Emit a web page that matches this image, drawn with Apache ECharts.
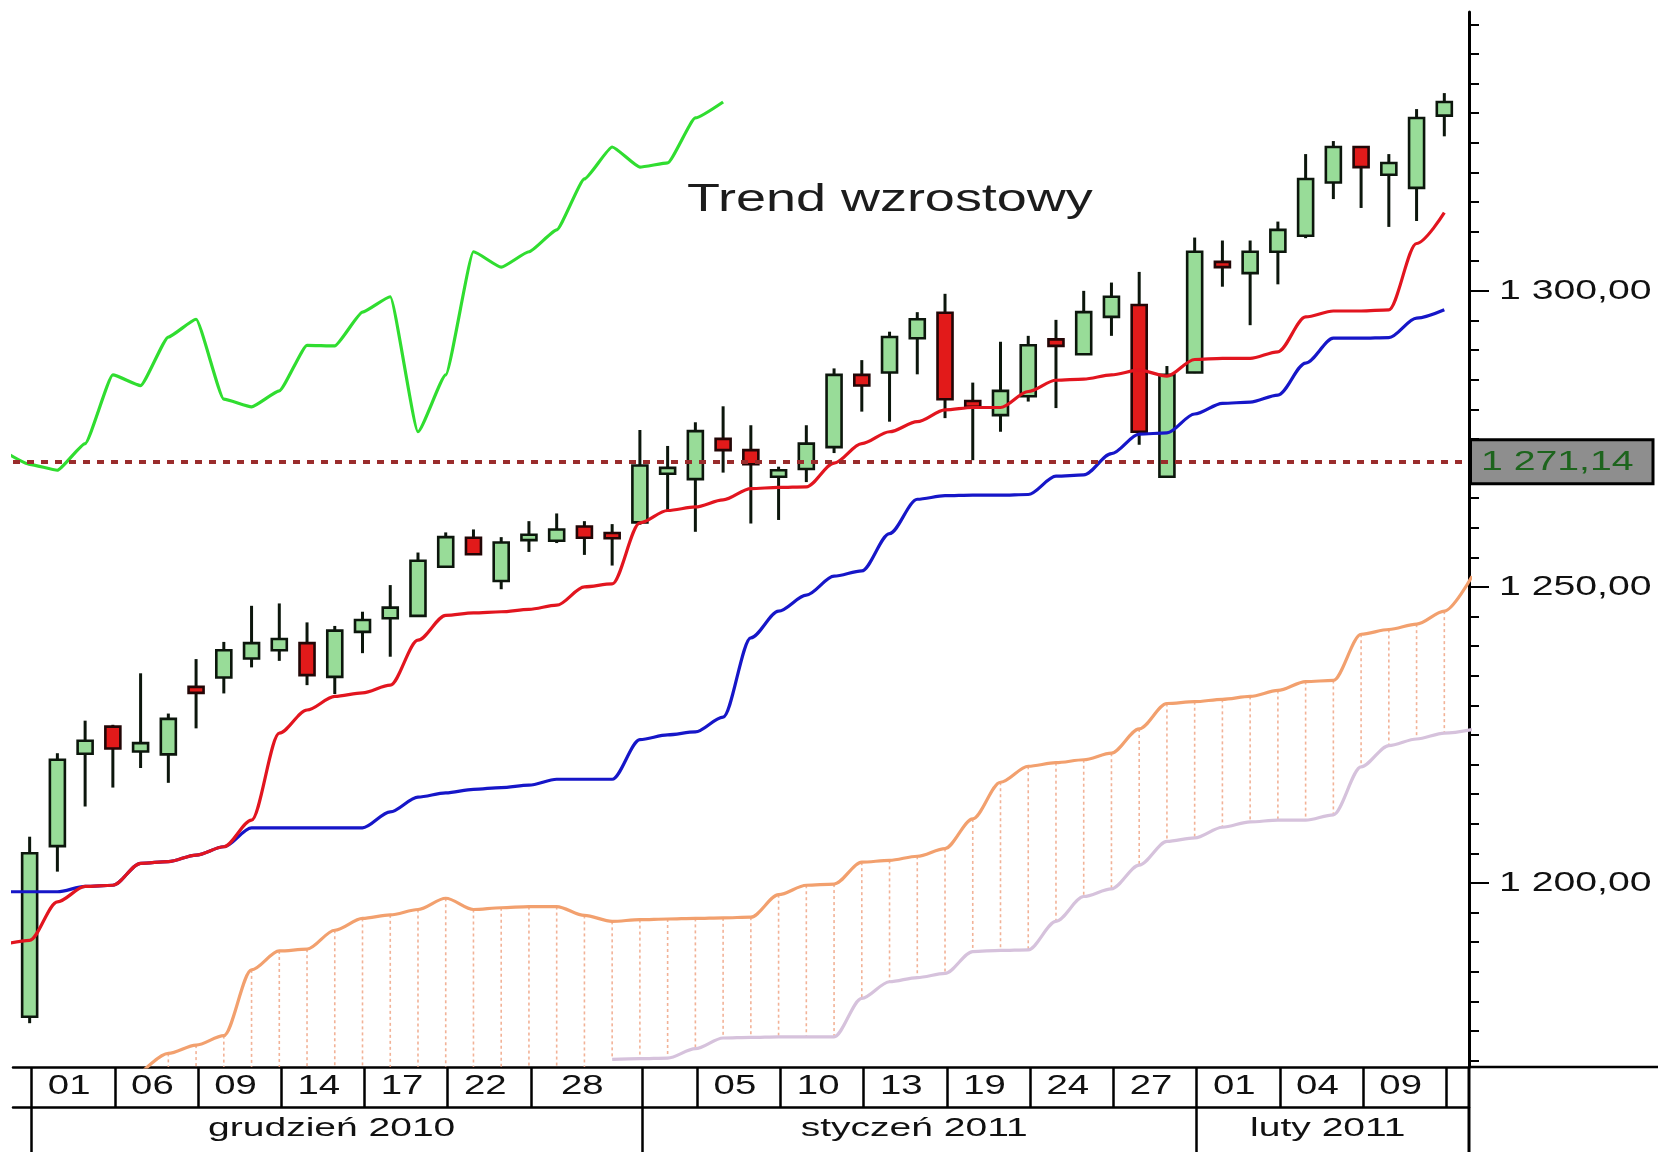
<!DOCTYPE html>
<html>
<head>
<meta charset="utf-8">
<script src="https://cdn.jsdelivr.net/npm/echarts@6/dist/echarts.min.js"></script>
<style>html,body{margin:0;padding:0;background:#fff}#c{width:1658px;height:1152px}</style>
</head>
<body>
<div id="c"></div>
<script>
// ---------- data ----------
// candles, index 0 .. 51
const opens  = [1177.4,1206.2,1221.8,1226.4,1222.2,1221.7,1233.1,1234.7,1237.9,1239.3,1240.5,1234.8,1242.4,1244.7,1245.1,1253.4,1258.3,1251.0,1257.9,1257.8,1260.2,1259.1,1260.9,1269.1,1268.2,1275.0,1273.1,1268.6,1269.9,1273.6,1285.8,1286.2,1292.0,1296.3,1281.4,1279.0,1282.2,1291.8,1289.3,1295.6,1297.6,1268.6,1286.2,1304.9,1303.0,1306.6,1309.3,1318.3,1324.3,1319.6,1317.4,1329.6];
const closes = [1205.0,1220.8,1224.0,1222.7,1223.6,1227.7,1232.1,1239.3,1240.5,1241.2,1235.1,1242.6,1244.4,1246.5,1254.4,1258.4,1255.5,1257.5,1258.8,1259.7,1258.3,1258.2,1270.5,1270.1,1276.3,1273.1,1270.7,1269.7,1274.2,1285.8,1284.0,1292.2,1295.2,1281.7,1280.4,1283.1,1290.8,1290.7,1296.4,1299.0,1276.2,1285.8,1306.6,1304.0,1306.6,1310.3,1318.9,1324.3,1320.9,1321.6,1329.2,1331.9];
const lows   = [1176.3,1201.9,1212.9,1216.1,1219.4,1216.9,1226.1,1232.0,1236.4,1237.5,1233.4,1231.9,1238.8,1238.2,1245.0,1253.3,1255.4,1249.6,1255.9,1257.4,1255.4,1253.6,1260.5,1263.0,1259.3,1269.3,1260.7,1261.3,1267.7,1272.6,1279.6,1277.9,1285.9,1278.5,1271.4,1276.2,1281.3,1280.2,1289.2,1292.4,1274.0,1268.5,1286.1,1300.7,1294.2,1301.1,1308.9,1315.5,1314.0,1310.8,1311.8,1326.1];
const highs  = [1207.8,1221.9,1227.4,1226.7,1235.4,1228.6,1237.8,1240.7,1246.8,1247.2,1244.0,1243.4,1245.8,1250.3,1255.8,1259.2,1259.7,1258.4,1261.1,1262.4,1261.1,1260.6,1276.5,1273.8,1277.8,1280.5,1277.3,1270.3,1277.3,1286.9,1288.3,1293.1,1296.4,1299.5,1284.5,1291.4,1292.4,1295.1,1300.0,1301.4,1303.2,1287.3,1309.0,1308.5,1308.5,1311.7,1323.1,1325.3,1324.4,1323.1,1330.7,1333.4];

// Tenkan-sen (red), Kijun-sen (blue), Chikou span (green): first value at index -1
const lineStart = -1;
const tenkan = [1189.5,1190.3,1196.8,1199.4,1199.6,1203.3,1203.6,1204.7,1206.1,1210.6,1225.3,1229.2,1231.5,1232.1,1233.4,1241.0,1245.2,1245.6,1245.8,1246.2,1246.9,1250.0,1250.5,1260.8,1262.9,1263.5,1264.7,1266.6,1266.8,1266.9,1270.9,1274.2,1276.2,1277.9,1279.9,1280.3,1280.3,1283.0,1284.9,1285.1,1285.8,1286.6,1285.6,1288.4,1288.6,1288.6,1289.7,1295.6,1296.6,1296.6,1296.8,1308.0,1313.2];
const kijun  = [1198.5,1198.5,1198.5,1199.4,1199.6,1203.3,1203.6,1204.7,1206.1,1209.3,1209.3,1209.3,1209.3,1209.3,1212.0,1214.5,1215.2,1215.8,1216.1,1216.5,1217.5,1217.5,1217.5,1224.2,1225.0,1225.5,1228.0,1241.4,1245.9,1248.6,1251.8,1252.7,1259.0,1264.8,1265.4,1265.5,1265.5,1265.6,1268.7,1268.9,1272.5,1275.8,1276.0,1279.2,1281.0,1281.2,1282.4,1287.8,1292.0,1292.0,1292.1,1295.4,1296.8];
const chikou = [1273.1,1270.7,1269.7,1274.2,1285.8,1284.0,1292.2,1295.2,1281.7,1280.4,1283.1,1290.8,1290.7,1296.4,1299.0,1276.2,1285.8,1306.6,1304.0,1306.6,1310.3,1318.9,1324.3,1320.9,1321.6,1329.2,1331.9];

// Senkou span A (orange) from index 4, Senkou span B (lavender) from index 21
const senkouAStart = 4;
const senkouA = [1167.8,1171.2,1172.6,1174.2,1185.3,1188.5,1188.8,1192.0,1194.0,1194.6,1195.5,1197.4,1195.5,1195.8,1196.0,1196.0,1194.5,1193.5,1193.8,1193.9,1194.0,1194.1,1194.2,1198.0,1199.6,1199.8,1203.5,1203.8,1204.5,1205.8,1210.8,1217.0,1219.7,1220.3,1220.8,1221.9,1226.0,1230.3,1230.6,1231.0,1231.5,1232.5,1234.0,1234.2,1242.0,1242.8,1243.7,1245.9,1251.8];
const senkouBStart = 21;
const senkouB = [1170.2,1170.3,1170.4,1172.0,1173.8,1173.9,1174.0,1174.0,1174.0,1180.5,1183.3,1184.0,1184.7,1188.4,1188.6,1188.7,1193.5,1197.7,1199.0,1203.0,1207.0,1207.6,1209.4,1210.3,1210.6,1210.6,1211.5,1219.6,1223.2,1224.3,1225.3,1225.9];

// axis text
const dayTickIdx    = [1,4,7,10,13,16,19,23,25,28,31,34,37,40,43,46,49,52];
const dayTickLabels = ['01','06','09','14','17','22','28','','05','10','13','19','24','27','01','04','09',''];
const monthTickIdx  = [1,23,43];
const monthLabels   = ['grudzień 2010','styczeń 2011','luty 2011'];
const yTickValues   = [1200,1250,1300];
const yTickLabels   = ['1 200,00','1 250,00','1 300,00'];
const priceLevel = 1271.14;
const priceLabel = '1 271,14';
const annotationText = 'Trend wzrostowy';

// ---------- layout ----------
const X_MIN = -0.6, X_MAX = 51.89;
const Y_MIN = 1168.9, Y_MAX = 1347.1;
const SEP_SHIFT = 0.93;
const FONT = 'Liberation Sans';

const minorTicks = [];
for (let v = 1170; v <= 1345; v += 5) minorTicks.push(v);
const daySeps = dayTickIdx.map(i => i - SEP_SHIFT);
const monthSeps = monthTickIdx.map(i => i - SEP_SHIFT);

const candleData = opens.map((o, i) => [i, o, closes[i], lows[i], highs[i]]);
const toXY = (arr, start) => arr.map((v, k) => [k + start, v]);
const hatchData = [];
senkouA.forEach((a, k) => {
  const i = k + senkouAStart;
  if (i > X_MAX) return;
  const bk = i - senkouBStart;
  const b = (bk >= 0 && bk < senkouB.length) ? senkouB[bk] : Y_MIN - 20;
  hatchData.push([i, a, b]);
});

function stretchedText(text, x, y, size, sx, align, color) {
  return {
    type: 'text', x: x, y: y, scaleX: sx, scaleY: 1, silent: true,
    style: { text: text, x: 0, y: 0, fontSize: size, fontFamily: FONT, fill: color, align: align, verticalAlign: 'middle' }
  };
}

function renderCandle(params, api) {
  const i = api.value(0), o = api.value(1), c = api.value(2), l = api.value(3), h = api.value(4);
  const pO = api.coord([i, o]), pC = api.coord([i, c]), pL = api.coord([i, l]), pH = api.coord([i, h]);
  const w = 15;
  const up = c >= o;
  let top = Math.min(pO[1], pC[1]), bot = Math.max(pO[1], pC[1]);
  if (bot - top < 3) { const m = (top + bot) / 2; top = m - 1.5; bot = m + 1.5; }
  return {
    type: 'group',
    children: [
      { type: 'line', shape: { x1: pH[0], y1: pH[1], x2: pL[0], y2: pL[1] }, style: { stroke: '#0c160c', lineWidth: 3 } },
      { type: 'rect', shape: { x: pO[0] - w / 2, y: top, width: w, height: bot - top },
        style: { fill: up ? '#98dc98' : '#e21a1a', stroke: up ? '#0c160c' : '#220606', lineWidth: 2.6 } }
    ]
  };
}

function renderHatch(params, api) {
  const i = api.value(0);
  const pA = api.coord([i, api.value(1)]);
  const pB = api.coord([i, api.value(2)]);
  return {
    type: 'line',
    shape: { x1: pA[0], y1: pA[1], x2: pB[0], y2: pB[1] },
    style: { stroke: '#f0a585', lineWidth: 1.6, lineDash: [3, 3], opacity: 0.85 }
  };
}

function renderOverlay(params, api) {
  const W = api.getWidth(), H = api.getHeight();
  const axis = api.coord([X_MAX, Y_MIN]);
  const axX = axis[0], botY = axis[1];
  const ch = [];
  // axis extensions
  ch.push({ type: 'line', shape: { x1: axX, y1: botY, x2: W, y2: botY }, style: { stroke: '#000', lineWidth: 2.5 } });
  ch.push({ type: 'line', shape: { x1: axX, y1: botY, x2: axX, y2: H }, style: { stroke: '#000', lineWidth: 3 } });
  // y labels
  yTickValues.forEach((v, k) => {
    const y = api.coord([X_MAX, v])[1];
    ch.push(stretchedText(yTickLabels[k], axX + 30, y, 28, 1.4, 'left', '#111'));
  });
  // current price tag
  const py = api.coord([X_MAX, priceLevel])[1];
  ch.push({ type: 'rect', shape: { x: axX + 1.5, y: py - 22, width: W - 5 - (axX + 1.5), height: 44 },
    style: { fill: '#8e8e8e', stroke: '#000', lineWidth: 3 } });
  ch.push(stretchedText(priceLabel, axX + 12, py + 1, 28, 1.4, 'left', '#1d641d'));
  // day labels
  const rowY = botY + 20;
  daySeps.forEach((s, k) => {
    if (!dayTickLabels[k]) return;
    const xs = api.coord([s, Y_MIN])[0];
    const next = k + 1 < daySeps.length ? daySeps[k + 1] : X_MAX;
    const xe = api.coord([Math.min(next, X_MAX), Y_MIN])[0];
    ch.push(stretchedText(dayTickLabels[k], (xs + xe) / 2 - 4, rowY, 27, 1.42, 'center', '#111'));
  });
  // month labels
  const mRowY = botY + 62;
  monthSeps.forEach((s, k) => {
    const xs = api.coord([s, Y_MIN])[0];
    const next = k + 1 < monthSeps.length ? monthSeps[k + 1] : X_MAX;
    const xe = api.coord([next, Y_MIN])[0];
    ch.push(stretchedText(monthLabels[k], (xs + xe) / 2 - 5, mRowY, 26, 1.5, 'center', '#111'));
  });
  return { type: 'group', children: ch };
}

const lineBase = { type: 'line', showSymbol: false, symbol: 'none', smoothMonotone: 'x', animation: false, silent: true };

const option = {
  backgroundColor: '#ffffff',
  animation: false,
  grid: { left: 13, right: 189, top: 12, bottom: 85, containLabel: false },
  xAxis: [
    { type: 'value', min: X_MIN, max: X_MAX, position: 'bottom',
      axisLine: { show: true, onZero: false, lineStyle: { color: '#000', width: 2.5 } },
      axisTick: { show: true, customValues: daySeps, length: 40, lineStyle: { color: '#000', width: 2.5 } },
      axisLabel: { show: false }, splitLine: { show: false } },
    { type: 'value', min: X_MIN, max: X_MAX, position: 'bottom', offset: 40,
      axisLine: { show: true, onZero: false, lineStyle: { color: '#000', width: 2.5 } },
      axisTick: { show: true, customValues: monthSeps, length: 46, lineStyle: { color: '#000', width: 2.5 } },
      axisLabel: { show: false }, splitLine: { show: false } }
  ],
  yAxis: [
    { type: 'value', position: 'right', min: Y_MIN, max: Y_MAX,
      axisLine: { show: true, onZero: false, lineStyle: { color: '#000', width: 3 } },
      axisTick: { show: true, customValues: minorTicks, length: 10, lineStyle: { color: '#000', width: 2 } },
      axisLabel: { show: false }, splitLine: { show: false } },
    { type: 'value', position: 'right', min: Y_MIN, max: Y_MAX, offset: 0,
      axisLine: { show: false, onZero: false },
      axisTick: { show: true, customValues: yTickValues, length: 20, lineStyle: { color: '#000', width: 2 } },
      axisLabel: { show: false }, splitLine: { show: false } }
  ],
  graphic: [
    { type: 'text', x: 687, y: 201, scaleX: 1.42, scaleY: 1, silent: true,
      style: { text: annotationText, fontSize: 38, fontFamily: FONT, fill: '#1c1c1c', align: 'left', verticalAlign: 'middle' } }
  ],
  series: [
    { type: 'custom', name: 'kumo', renderItem: renderHatch, data: hatchData, clip: true, silent: true,
      encode: { x: 0, y: [1, 2] }, z: 1 },
    Object.assign({}, lineBase, { name: 'Senkou A', data: toXY(senkouA, senkouAStart), smooth: 0.3, z: 2,
      lineStyle: { color: '#f2a06e', width: 3.2 } }),
    Object.assign({}, lineBase, { name: 'Senkou B', data: toXY(senkouB, senkouBStart), smooth: 0.3, z: 2,
      lineStyle: { color: '#d6c2dc', width: 3.2 } }),
    { type: 'custom', name: 'candles', renderItem: renderCandle, data: candleData, clip: true, silent: true,
      encode: { x: 0, y: [1, 2, 3, 4] }, z: 3 },
    Object.assign({}, lineBase, { name: 'Kijun', data: toXY(kijun, lineStart), smooth: 0.3, z: 4,
      lineStyle: { color: '#1616c8', width: 3.2 } }),
    Object.assign({}, lineBase, { name: 'Tenkan', data: toXY(tenkan, lineStart), smooth: 0.3, z: 4,
      lineStyle: { color: '#e2151f', width: 3.2 } }),
    Object.assign({}, lineBase, { name: 'Chikou', data: toXY(chikou, lineStart), smooth: 0.15, z: 4,
      lineStyle: { color: '#30dd30', width: 3.2 },
      markLine: { silent: true, symbol: ['none', 'none'], animation: false, label: { show: false },
        lineStyle: { color: '#9a2c2c', width: 4, type: [7, 7], cap: 'butt' },
        data: [{ yAxis: priceLevel }] } }),
    { type: 'custom', name: 'axisText', renderItem: renderOverlay, data: [[0, Y_MIN]], clip: false, silent: true,
      encode: { x: 0, y: 1 }, z: 10 }
  ]
};

const chart = echarts.init(document.getElementById('c'), null, { renderer: 'canvas' });
chart.setOption(option);
</script>
</body>
</html>
